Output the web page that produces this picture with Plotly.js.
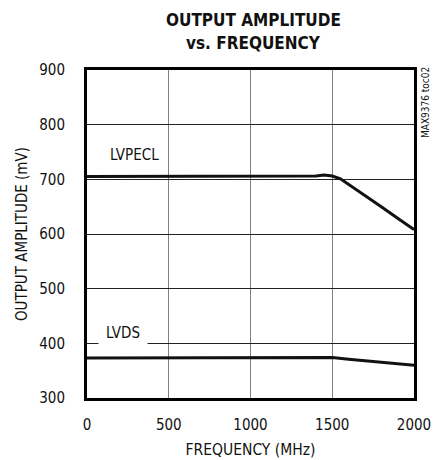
<!DOCTYPE html>
<html>
<head>
<meta charset="utf-8">
<script src="https://cdn.plot.ly/plotly-3.0.1.min.js"></script>
<style>html,body{margin:0;padding:0;background:#fff;}#chart{width:433px;height:460px;}</style>
</head>
<body>
<div id="chart"></div>
<script>
// Data
const lvpeclFreq = [0, 100, 200, 300, 400, 500, 600, 700, 800, 900, 1000, 1100, 1200, 1300, 1400, 1450, 1500, 1550, 1600, 1700, 1800, 1900, 2000];
const lvpeclAmp  = [705, 705, 705, 705, 705, 705, 705, 705, 705, 705, 705, 705, 705, 705, 706, 708, 706, 701, 691, 670, 650, 629, 608];
const lvdsFreq = [0, 100, 200, 300, 400, 500, 600, 700, 800, 900, 1000, 1100, 1200, 1300, 1400, 1500, 1600, 1700, 1800, 1900, 2000];
const lvdsAmp  = [373, 373, 373, 373, 373, 373, 373, 373, 373, 373, 373, 373, 373, 373, 374, 374, 371, 368, 366, 363, 360];
const xTicks = [0, 500, 1000, 1500, 2000];
const yTicks = [300, 400, 500, 600, 700, 800, 900];
const seriesNames = ['LVPECL', 'LVDS'];
const titleLines = ['OUTPUT AMPLITUDE', 'vs. FREQUENCY'];

const FONT = '"DejaVu Sans Condensed", "Liberation Sans Narrow", Arial, sans-serif';

const traces = [
  {x: lvpeclFreq, y: lvpeclAmp, mode: 'lines', name: seriesNames[0], line: {color: '#111', width: 3}},
  {x: lvdsFreq, y: lvdsAmp, mode: 'lines', name: seriesNames[1], line: {color: '#111', width: 3}}
];

const layout = {
  width: 433, height: 460,
  margin: {l: 87, r: 19, t: 70, b: 62},
  paper_bgcolor: '#fff', plot_bgcolor: '#fff',
  showlegend: false,
  font: {family: FONT, size: 15, color: '#111'},
  xaxis: {
    range: [0, 2000], tickvals: xTicks, ticktext: xTicks.map(String),
    showgrid: true, gridcolor: '#808080', gridwidth: 1,
    showline: true, linecolor: '#000', linewidth: 3, mirror: true,
    ticks: '', ticklabelstandoff: 11, zeroline: false,
    tickfont: {family: FONT, size: 15, color: '#111'},
    title: {text: 'FREQUENCY (MHz)', font: {family: FONT, size: 15.5, color: '#111'}, standoff: 12}
  },
  yaxis: {
    range: [300, 900], tickvals: yTicks, ticktext: yTicks.map(String),
    showgrid: true, gridcolor: '#222', gridwidth: 1,
    showline: true, linecolor: '#000', linewidth: 3, mirror: true,
    ticks: '', ticklabelstandoff: 16, zeroline: false,
    tickfont: {family: FONT, size: 15, color: '#111'},
    title: {text: 'OUTPUT AMPLITUDE (mV)', font: {family: FONT, size: 15, color: '#111'}, standoff: 8}
  },
  annotations: [
    {x: 0.508, y: 1.152, xref: 'paper', yref: 'paper', text: '<b>' + titleLines[0] + '</b>', showarrow: false,
     font: {family: FONT, size: 17, color: '#111'}, xanchor: 'center', yanchor: 'middle'},
    {x: 0.508, y: 1.082, xref: 'paper', yref: 'paper', text: '<b>' + titleLines[1] + '</b>', showarrow: false,
     font: {family: FONT, size: 17, color: '#111'}, xanchor: 'center', yanchor: 'middle'},
    {x: 130, y: 745, xref: 'x', yref: 'y', text: seriesNames[0], showarrow: false,
     font: {family: FONT, size: 15, color: '#111'}, xanchor: 'left', yanchor: 'middle'},
    {x: 69, y: 419, xref: 'x', yref: 'y', text: seriesNames[1], showarrow: false,
     font: {family: FONT, size: 15, color: '#111'}, xanchor: 'left', yanchor: 'middle',
     bgcolor: '#fff', borderpad: 7},
    {x: 1.012, y: 1.015, xref: 'paper', yref: 'paper', text: 'MAX9376 toc02', showarrow: false,
     textangle: -90, font: {family: FONT, size: 10, color: '#111'}, xanchor: 'left', yanchor: 'top'}
  ]
};

Plotly.newPlot('chart', traces, layout, {staticPlot: true, displayModeBar: false});
</script>
</body>
</html>
